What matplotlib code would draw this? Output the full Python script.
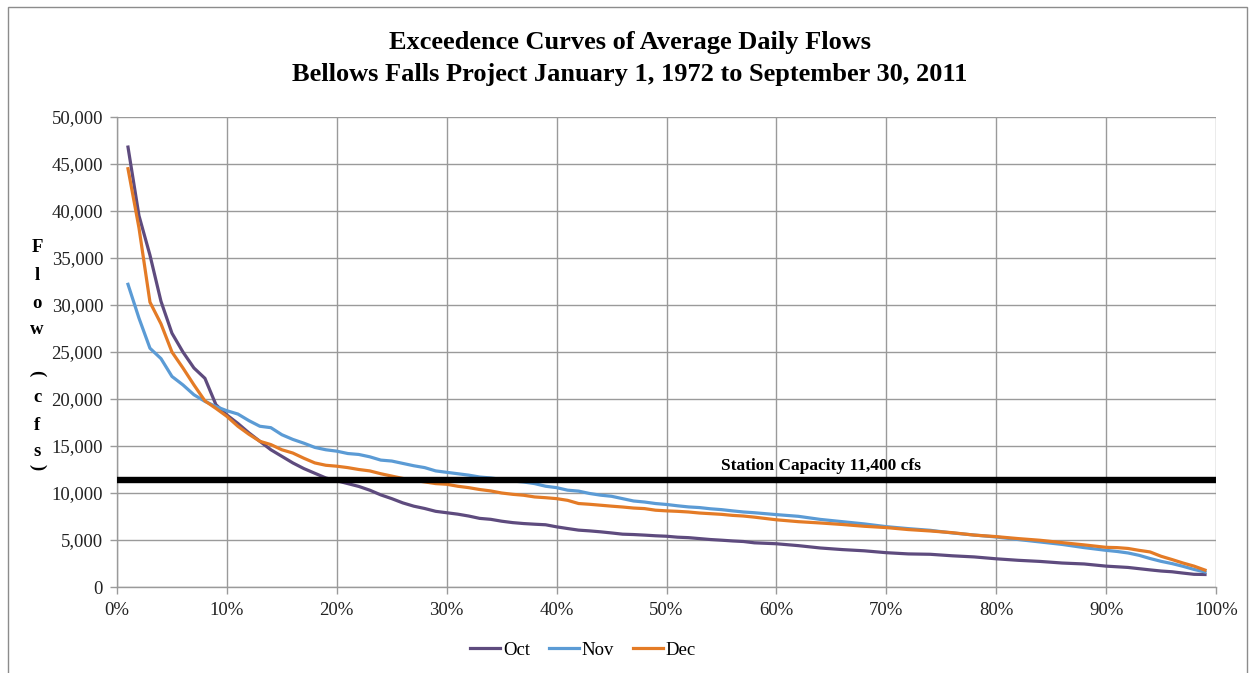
import matplotlib
matplotlib.use("Agg")
import matplotlib.pyplot as plt
from matplotlib.ticker import FuncFormatter, MultipleLocator
from matplotlib.patches import Rectangle

# ---------------- data ----------------
pct = list(range(1, 58)) + list(range(58, 90, 2)) + list(range(90, 100))

oct_flow = [46800, 39500, 35300, 30400, 27000, 25000, 23300, 22200, 19400, 18300,
            17400, 16400, 15500, 14600, 13900, 13200, 12600, 12100, 11600, 11300,
            11000, 10700, 10300, 9800, 9400, 8950, 8600, 8350, 8050, 7900,
            7750, 7550, 7300, 7200, 7000, 6850, 6750, 6680, 6620, 6400,
            6220, 6050, 5970, 5870, 5750, 5620, 5580, 5520, 5450, 5400,
            5300, 5250, 5150, 5050, 4980, 4900, 4840,
            4700, 4600, 4400, 4150, 3980, 3850, 3650, 3520, 3480, 3320,
            3200, 3000, 2840, 2720, 2550, 2450,
            2220, 2150, 2080, 1950, 1820, 1700, 1620, 1480, 1350, 1330]

nov_flow = [32200, 28600, 25400, 24300, 22400, 21500, 20450, 19750, 19200, 18750,
            18400, 17700, 17100, 16950, 16200, 15700, 15300, 14850, 14600, 14450,
            14200, 14100, 13850, 13500, 13400, 13150, 12900, 12700, 12350, 12200,
            12050, 11900, 11700, 11600, 11450, 11280, 11170, 11000, 10720, 10570,
            10300, 10200, 9950, 9770, 9650, 9400, 9150, 9040, 8880, 8780,
            8640, 8520, 8450, 8320, 8230, 8100, 7980,
            7900, 7700, 7520, 7190, 6950, 6710, 6420, 6210, 6030, 5750,
            5530, 5320, 5050, 4790, 4530, 4190,
            3900, 3780, 3620, 3370, 3030, 2730, 2490, 2200, 1870, 1600]

dec_flow = [44500, 38200, 30300, 28000, 25000, 23300, 21500, 19800, 19000, 18150,
            17100, 16250, 15500, 15150, 14600, 14250, 13700, 13200, 12950, 12850,
            12700, 12500, 12350, 12050, 11800, 11550, 11350, 11180, 11000, 10930,
            10720, 10570, 10370, 10220, 10000, 9860, 9760, 9580, 9500, 9400,
            9220, 8880, 8800, 8700, 8600, 8510, 8400, 8340, 8170, 8100,
            8050, 7980, 7870, 7800, 7730, 7620, 7550,
            7430, 7150, 6950, 6810, 6650, 6460, 6320, 6110, 5960, 5780,
            5520, 5360, 5150, 4970, 4720, 4480,
            4220, 4190, 4100, 3900, 3730, 3270, 2920, 2550, 2220, 1800]

series_names = ["Oct", "Nov", "Dec"]
station_capacity = 11400
station_label = "Station Capacity 11,400 cfs"
title_lines = ["Exceedence Curves of Average Daily Flows",
               "Bellows Falls Project January 1, 1972 to September 30, 2011"]
ylabel_chars = ["F", "l", "o", "w", "(", "c", "f", "s", ")"]

# ---------------- styling ----------------
W, H = 1252, 673
serif = ["Liberation Serif", "DejaVu Serif"]
colors = ["#5E4B7E", "#5B9BD5", "#E47B26"]
grid_c = "#9A9A9A"

fig = plt.figure(figsize=(W / 100, H / 100), dpi=100)
ax = fig.add_axes([117 / W, 1 - 587 / H, (1216 - 117) / W, (587 - 117) / H])

for vals, name, c in zip([oct_flow, nov_flow, dec_flow], series_names, colors):
    ax.plot(pct, vals, color=c, lw=2.3, label=name, solid_joinstyle="round", zorder=3)

ax.axhline(station_capacity, color="black", lw=4.6, zorder=4)
ax.text(55.0, station_capacity + 650, station_label, fontfamily=serif,
        fontweight="bold", fontsize=12.5, ha="left", va="bottom", zorder=5)

ax.set_xlim(0, 100)
ax.set_ylim(0, 50000)
ax.xaxis.set_major_locator(MultipleLocator(10))
ax.yaxis.set_major_locator(MultipleLocator(5000))
ax.xaxis.set_major_formatter(FuncFormatter(lambda v, p: f"{int(round(v))}%"))
ax.yaxis.set_major_formatter(FuncFormatter(lambda v, p: f"{int(round(v)):,}"))
ax.grid(True, color=grid_c, lw=1.0, zorder=0)
for s in ["top", "right"]:
    ax.spines[s].set_visible(False)
for s in ["left", "bottom"]:
    ax.spines[s].set_color(grid_c)
    ax.spines[s].set_linewidth(1.0)
ax.tick_params(axis="both", colors=grid_c, length=5, width=1.0, labelcolor="#222222",
               labelsize=13.5)
ax.tick_params(axis="x", pad=6)
ax.tick_params(axis="y", pad=5)
for lab in ax.get_xticklabels() + ax.get_yticklabels():
    lab.set_fontfamily(serif)

# title
fig.text(630 / W, 1 - 42 / H, title_lines[0], ha="center", va="center",
         fontfamily=serif, fontweight="bold", fontsize=19)
fig.text(630 / W, 1 - 75 / H, title_lines[1], ha="center", va="center",
         fontfamily=serif, fontweight="bold", fontsize=19)

# stacked y label
ypos = [248, 276, 304, 330, 373, 398, 425, 452, 467]
for ch, yp in zip(ylabel_chars, ypos):
    rot = -90 if ch in "()" else 0
    fig.text(37 / W, 1 - yp / H, ch, ha="center", va="center", rotation=rot,
             rotation_mode="anchor", fontfamily=serif, fontweight="bold", fontsize=13.5)

# legend
leg = fig.legend(loc="center", bbox_to_anchor=(583 / W, 1 - 650 / H), ncol=3,
                 frameon=False, handlelength=1.6, handletextpad=0.15,
                 columnspacing=1.0, prop={"family": serif, "size": 13.5})

# outer border
fig.patches.append(Rectangle((7.5 / W, -0.05), (1247 - 7.5) / W, 1.05 - 7.5 / H,
                             transform=fig.transFigure, fill=False,
                             edgecolor="#8C8C8C", lw=1.0))

fig.savefig("out.png", dpi=100)
